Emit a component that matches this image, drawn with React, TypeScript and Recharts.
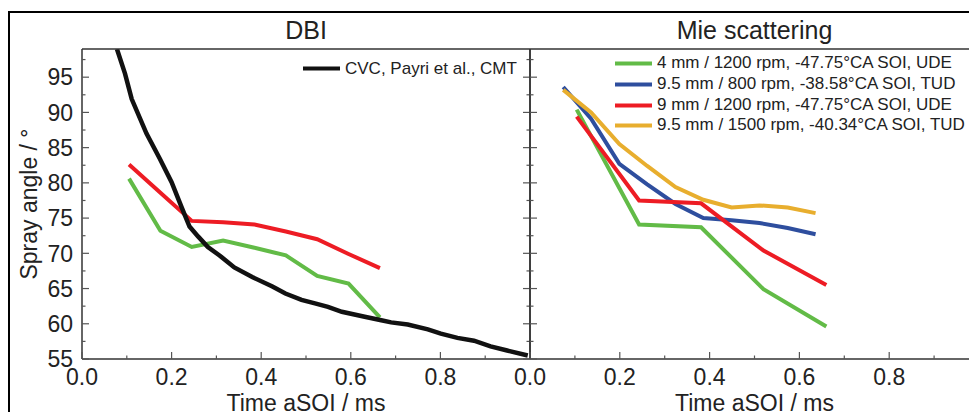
import React from 'react';
import { LineChart, Line, XAxis, YAxis, Legend } from 'recharts';

const FONT = "'Liberation Sans', Arial, Helvetica, sans-serif";
const AXIS = '#333333';
const TICK = '#555555';
const TEXT = '#222222';

// ---- tick values ----
const xTicks = [0, 0.1, 0.2, 0.3, 0.4, 0.5, 0.6, 0.7, 0.8, 0.9, 1.0];
const yTicks = [55, 57.5, 60, 62.5, 65, 67.5, 70, 72.5, 75, 77.5, 80, 82.5, 85, 87.5, 90, 92.5, 95, 97.5];

// ---- DBI panel ----
const dbiCvcTime = [0.078, 0.096, 0.111, 0.144, 0.174, 0.2, 0.222, 0.24, 0.259, 0.281, 0.307, 0.34, 0.381, 0.425, 0.454, 0.49, 0.52, 0.549, 0.58, 0.631, 0.668, 0.69, 0.727, 0.772, 0.801, 0.838, 0.875, 0.912, 0.949, 0.995];
const dbiCvcAngle = [99.0, 95.5, 91.9, 87.0, 83.4, 80.1, 76.6, 73.8, 72.4, 70.9, 69.7, 68.0, 66.6, 65.3, 64.3, 63.4, 62.9, 62.4, 61.7, 61.0, 60.5, 60.2, 59.9, 59.2, 58.6, 58.0, 57.6, 56.8, 56.2, 55.5];
const dbiUdeTime = [0.105, 0.175, 0.245, 0.315, 0.385, 0.455, 0.525, 0.595, 0.665];
const dbi4mmAngle = [80.6, 73.2, 70.9, 71.8, 70.8, 69.7, 66.8, 65.7, 60.9];
const dbi9mmAngle = [82.6, 78.6, 74.6, 74.4, 74.1, 73.1, 72.0, 69.9, 67.9];

// ---- Mie scattering panel ----
const mieUdeTime = [0.104, 0.243, 0.381, 0.52, 0.66];
const mie4mmAngle = [90.4, 74.1, 73.7, 64.9, 59.6];
const mie9mmAngle = [89.4, 77.5, 77.1, 70.4, 65.5];
const mieTudTime = [0.074, 0.136, 0.199, 0.261, 0.324, 0.386, 0.449, 0.511, 0.574, 0.636];
const mie800Angle = [93.6, 89.1, 82.7, 79.8, 77.0, 75.0, 74.7, 74.3, 73.6, 72.7];
const mie1500Angle = [93.2, 90.0, 85.5, 82.4, 79.4, 77.6, 76.5, 76.8, 76.5, 75.7];

// ---- series names ----
const nameCvc = 'CVC, Payri et al., CMT';
const name4mm = '4 mm / 1200 rpm, -47.75°CA SOI, UDE';
const name800 = '9.5 mm / 800 rpm, -38.58°CA SOI, TUD';
const name9mm = '9 mm / 1200 rpm, -47.75°CA SOI, UDE';
const name1500 = '9.5 mm / 1500 rpm, -40.34°CA SOI, TUD';

const dbiLegendOrder = [nameCvc];
const mieLegendOrder = [name4mm, name800, name9mm, name1500];

const GREEN = '#62bb47';
const BLUE = '#2e4e9e';
const RED = '#ed1c24';
const ORANGE = '#e8ae2e';
const BLACK = '#111111';

const toPoints = (xs: number[], ys: number[]) => xs.map((x, i) => ({ x, y: ys[i] }));

const isMajorX = (v: number) => Math.abs(v * 5 - Math.round(v * 5)) < 1e-6;
const isMajorY = (v: number) => Math.abs(v / 5 - Math.round(v / 5)) < 1e-6;

const BottomTick = (p: any, maxLabel: number) => {
  const x = p.x ?? 0;
  const y = p.y ?? 0;
  const v = p.payload ? p.payload.value : 0;
  const major = isMajorX(v);
  const len = major ? 7 : 3.5;
  return (
    <g>
      <line x1={x} y1={y} x2={x} y2={y - len} stroke={TICK} strokeWidth={1.2} />
      {major && v <= maxLabel ? (
        <text x={x} y={y + 26} textAnchor="middle" fontSize={23} fill={TEXT} fontFamily={FONT}>
          {v.toFixed(1)}
        </text>
      ) : null}
    </g>
  );
};

const TopTick = (p: any) => {
  const x = p.x ?? 0;
  const y = p.y ?? 0;
  const v = p.payload ? p.payload.value : 0;
  const len = isMajorX(v) ? 7 : 3.5;
  return <line x1={x} y1={y} x2={x} y2={y + len} stroke={TICK} strokeWidth={1.2} />;
};

const LeftTick = (p: any, labels: boolean) => {
  const x = p.x ?? 0;
  const y = p.y ?? 0;
  const v = p.payload ? p.payload.value : 0;
  const major = isMajorY(v);
  const len = major ? 7 : 3.5;
  return (
    <g>
      <line x1={x} y1={y} x2={x + len} y2={y} stroke={TICK} strokeWidth={1.2} />
      {labels && major ? (
        <text x={x - 9} y={y} dy="0.36em" textAnchor="end" fontSize={23} fill={TEXT} fontFamily={FONT}>
          {String(v)}
        </text>
      ) : null}
    </g>
  );
};

const RightTick = (p: any) => {
  const x = p.x ?? 0;
  const y = p.y ?? 0;
  const v = p.payload ? p.payload.value : 0;
  const len = isMajorY(v) ? 7 : 3.5;
  return <line x1={x} y1={y} x2={x - len} y2={y} stroke={TICK} strokeWidth={1.2} />;
};

const makeLegend = (rowH: number, order: string[]) => (props: any) => {
  const payload: any[] = (props.payload || []).filter((e: any) => order.indexOf(String(e.value)) >= 0);
  payload.sort((a, b) => order.indexOf(String(a.value)) - order.indexOf(String(b.value)));
  return (
    <div style={{ fontFamily: FONT, fontSize: 17, color: TEXT }}>
      {payload.map((e: any) => (
        <div key={String(e.value)} style={{ display: 'flex', alignItems: 'center', height: rowH, whiteSpace: 'nowrap' }}>
          <svg width={37} height={rowH} style={{ display: 'block', flex: 'none' }}>
            <line x1={0} x2={37} y1={rowH / 2} y2={rowH / 2} stroke={e.color} strokeWidth={4} />
          </svg>
          <span style={{ marginLeft: 5, lineHeight: `${rowH}px` }}>{e.value}</span>
        </div>
      ))}
    </div>
  );
};

const CH = 412;
const CW = 540;
const PLOT_TOP = 41;
const PLOT_BOTTOM = 351;
const axisLineStyle = { stroke: AXIS, strokeWidth: 1.5 };
const labelFont = { fontSize: 23, fill: TEXT, fontFamily: FONT };

export default function App() {
  return (
    <div
      style={{
        position: 'relative',
        width: 969,
        height: CH,
        marginBottom: -8,
        overflow: 'hidden',
        fontFamily: FONT,
      }}
    >
      <div
        style={{
          position: 'absolute',
          left: 0,
          top: 3,
          width: 1400,
          height: 900,
          borderTop: '2px solid #000',
          borderLeft: '2px solid #000',
          boxSizing: 'border-box',
        }}
      />
      {/* DBI panel */}
      <div style={{ position: 'absolute', left: 0, top: 0 }}>
        <LineChart width={CW} height={CH} margin={{ top: PLOT_TOP - 1, left: 0, right: 17, bottom: CH - PLOT_BOTTOM - 1 }}>
          <XAxis
            dataKey="x"
            type="number"
            domain={[0, 1]}
            allowDataOverflow
            ticks={xTicks}
            interval={0}
            height={1}
            tickSize={0}
            tickMargin={0}
            tickLine={false}
            axisLine={axisLineStyle}
            tick={(p: any) => BottomTick(p, 0.85)}
            label={{ value: 'Time aSOI / ms', position: 'bottom', offset: 35, ...labelFont }}
          />
          <XAxis
            xAxisId="top"
            orientation="top"
            type="number"
            domain={[0, 1]}
            allowDataOverflow
            ticks={xTicks}
            interval={0}
            height={1}
            tickSize={0}
            tickMargin={0}
            tickLine={false}
            axisLine={axisLineStyle}
            tick={TopTick}
            label={{ value: 'DBI', position: 'top', offset: 9, fontSize: 25, fill: TEXT, fontFamily: FONT }}
          />
          <YAxis
            type="number"
            domain={[55, 99]}
            allowDataOverflow
            ticks={yTicks}
            interval={0}
            width={74}
            tickSize={0}
            tickMargin={0}
            tickLine={false}
            axisLine={axisLineStyle}
            tick={(p: any) => LeftTick(p, true)}
            label={{
              value: 'Spray angle / °',
              angle: -90,
              position: 'insideLeft',
              offset: 20.5,
              style: { textAnchor: 'middle' },
              ...labelFont,
            }}
          />
          <YAxis
            yAxisId="right"
            orientation="right"
            type="number"
            domain={[55, 99]}
            allowDataOverflow
            ticks={yTicks}
            interval={0}
            width={1}
            tickSize={0}
            tickMargin={0}
            tickLine={false}
            axisLine={axisLineStyle}
            tick={RightTick}
          />
          <Legend
            layout="vertical"
            align="center"
            verticalAlign="middle"
            wrapperStyle={{ top: 50, left: 295 }}
            content={makeLegend(21, dbiLegendOrder)}
          />
          <Line
            data={toPoints(dbiUdeTime, dbi9mmAngle)}
            dataKey="y"
            type="linear"
            name={name9mm}
            stroke={RED}
            strokeWidth={4}
            dot={false}
            activeDot={false}
            legendType="none"
            isAnimationActive={false}
          />
          <Line
            data={toPoints(dbiUdeTime, dbi4mmAngle)}
            dataKey="y"
            type="linear"
            name={name4mm}
            stroke={GREEN}
            strokeWidth={4}
            dot={false}
            activeDot={false}
            legendType="none"
            isAnimationActive={false}
          />
          <Line
            data={toPoints(dbiCvcTime, dbiCvcAngle)}
            dataKey="y"
            type="linear"
            name={nameCvc}
            stroke={BLACK}
            strokeWidth={4.5}
            dot={false}
            activeDot={false}
            isAnimationActive={false}
          />
        </LineChart>
      </div>
      {/* Mie scattering panel */}
      <div style={{ position: 'absolute', left: 450, top: 0 }}>
        <LineChart width={CW} height={CH} margin={{ top: PLOT_TOP - 1, left: 71, right: 18, bottom: CH - PLOT_BOTTOM - 1 }}>
          <XAxis
            dataKey="x"
            type="number"
            domain={[0, 1]}
            allowDataOverflow
            ticks={xTicks}
            interval={0}
            height={1}
            tickSize={0}
            tickMargin={0}
            tickLine={false}
            axisLine={axisLineStyle}
            tick={(p: any) => BottomTick(p, 0.85)}
            label={{ value: 'Time aSOI / ms', position: 'bottom', offset: 35, ...labelFont }}
          />
          <XAxis
            xAxisId="top"
            orientation="top"
            type="number"
            domain={[0, 1]}
            allowDataOverflow
            ticks={xTicks}
            interval={0}
            height={1}
            tickSize={0}
            tickMargin={0}
            tickLine={false}
            axisLine={axisLineStyle}
            tick={TopTick}
            label={{ value: 'Mie scattering', position: 'top', offset: 9, fontSize: 25, fill: TEXT, fontFamily: FONT }}
          />
          <YAxis
            type="number"
            domain={[55, 99]}
            allowDataOverflow
            ticks={yTicks}
            interval={0}
            width={1}
            tickSize={0}
            tickMargin={0}
            tickLine={false}
            axisLine={axisLineStyle}
            tick={(p: any) => LeftTick(p, false)}
          />
          <YAxis
            yAxisId="right"
            orientation="right"
            type="number"
            domain={[55, 99]}
            allowDataOverflow
            ticks={yTicks}
            interval={0}
            width={1}
            tickSize={0}
            tickMargin={0}
            tickLine={false}
            axisLine={axisLineStyle}
            tick={RightTick}
          />
          <Legend
            layout="vertical"
            align="center"
            verticalAlign="middle"
            wrapperStyle={{ top: 45, left: 157 }}
            content={makeLegend(20.8, mieLegendOrder)}
          />
          <Line
            data={toPoints(mieUdeTime, mie4mmAngle)}
            dataKey="y"
            type="linear"
            name={name4mm}
            stroke={GREEN}
            strokeWidth={4}
            dot={false}
            activeDot={false}
            isAnimationActive={false}
          />
          <Line
            data={toPoints(mieTudTime, mie800Angle)}
            dataKey="y"
            type="linear"
            name={name800}
            stroke={BLUE}
            strokeWidth={4}
            dot={false}
            activeDot={false}
            isAnimationActive={false}
          />
          <Line
            data={toPoints(mieUdeTime, mie9mmAngle)}
            dataKey="y"
            type="linear"
            name={name9mm}
            stroke={RED}
            strokeWidth={4}
            dot={false}
            activeDot={false}
            isAnimationActive={false}
          />
          <Line
            data={toPoints(mieTudTime, mie1500Angle)}
            dataKey="y"
            type="linear"
            name={name1500}
            stroke={ORANGE}
            strokeWidth={4}
            dot={false}
            activeDot={false}
            isAnimationActive={false}
          />
        </LineChart>
      </div>
    </div>
  );
}
